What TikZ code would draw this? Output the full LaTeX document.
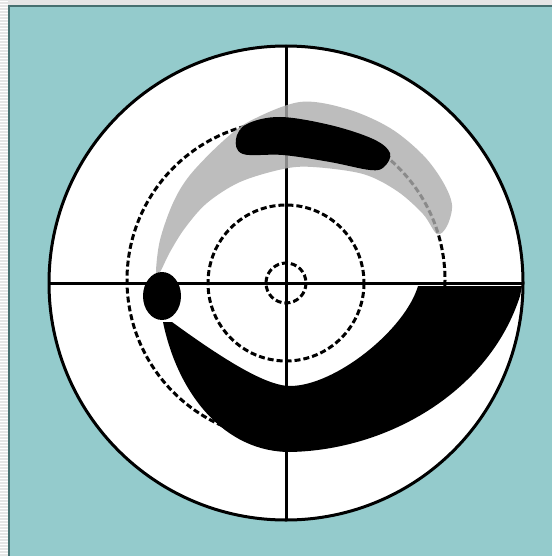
\documentclass[tikz,border=0pt]{standalone}
\usepackage{tikz}
\usetikzlibrary{calc}
\definecolor{teal}{RGB}{148,203,204}
\definecolor{tealedge}{RGB}{70,112,112}
\definecolor{shade}{gray}{0.68}
\tikzset{rim/.style={line width=1.5mm},
  ring/.style={line width=1.5mm, dash pattern=on 3mm off 1.5mm},
  band/.style={fill=shade, fill opacity=0.8}}
\begin{document}
\begin{tikzpicture}[x=0.5mm, y=-0.5mm]
\useasboundingbox (0,0) rectangle (552,556);
\fill[black!10] (0,0) rectangle (552,556);
\foreach \y in {1,4,...,556} \draw[white, line width=0.4mm] (0,\y) -- (8,\y);
\fill[teal] (8,6) rectangle (552,556);
\draw[tealedge, line width=1mm] (8.5,556) -- (8.5,6.5) -- (552,6.5);
\coordinate (O) at (286,283);
\coordinate (P) at (286,280);
\filldraw[rim, fill=white] (O) circle (237);
\draw[rim] (49,283) -- (523,283);
\draw[rim] (286,46) -- (286,520);
\draw[ring] (O) circle (20);
\draw[ring] (O) circle (78);
\draw[ring] (P) circle (159);
\fill[band] plot[smooth cycle, tension=0.55] coordinates {(156,272) (160,240) (173,203) (190,175) (222,142) (250,121) (300,102) (347,109) (390,128) (423,155) (443,182) (452,205) (447,226) (437,234) (423,214) (397,191) (363,174) (313,167) (283,169) (240,182) (207,203) (185,228) (170,252) (160,272)};
\fill plot[smooth cycle, tension=0.6] coordinates {(236,139) (247,124) (280,117) (330,125) (373,139) (390,153) (384,167) (370,170) (330,162) (283,155) (243,154)};
\fill (162,296) ellipse (19 and 24);
\fill (418,286) -- (522,286) -- (520,296)
  .. controls (490,390) and (390,450) .. (290,452)
  .. controls (225,452) and (178,395) .. (163,322)
  -- (172,322) .. controls (235,368) and (270,386) .. (290,386)
  .. controls (335,386) and (405,330) .. (418,286) -- cycle;
\end{tikzpicture}
\end{document}
